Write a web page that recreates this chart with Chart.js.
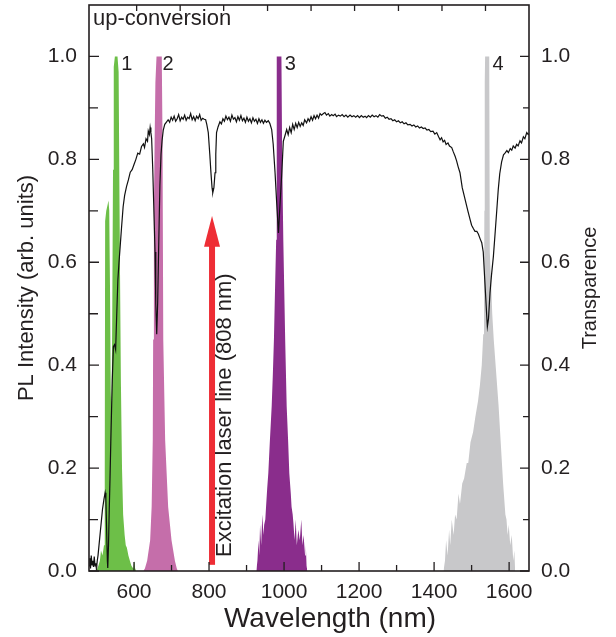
<!DOCTYPE html>
<html>
<head>
<meta charset="utf-8">
<script src="https://cdn.jsdelivr.net/npm/chart.js@4.4.1/dist/chart.umd.min.js"></script>
<style>
  html, body { margin: 0; padding: 0; background: #fff; }
</style>
</head>
<body>
<canvas id="chart" width="616" height="637"></canvas>
<script>
// axis ranges and ticks
const xRange = [480, 1653];
const yRange = [0, 1.1];
const xMajor = [600, 800, 1000, 1200, 1400, 1600];
const xMinor = [500, 700, 900, 1100, 1300, 1500];
const topTicks = [607, 723, 839, 956, 1072, 1188, 1305, 1421, 1537];
const yMajor = [0, 0.2, 0.4, 0.6, 0.8, 1.0];
const yMinor = [0.1, 0.3, 0.5, 0.7, 0.9];

// PL emission peaks (left axis)
const greenNm = [500, 505, 509, 512, 516, 520, 522, 523, 526, 529, 532, 534, 536, 538, 540, 542, 544, 546, 549, 552, 556, 559, 561, 563, 565, 568, 571, 575, 578, 581, 585, 589, 593, 598, 601, 603, 606];
const greenPL = [0, 0.01, 0.02, 0.04, 0.03, 0.05, 0.2, 0.68, 0.70, 0.71, 0.72, 0.70, 0.55, 0.35, 0.3, 0.5, 0.78, 0.98, 1.0, 1.0, 1.0, 0.97, 0.75, 0.55, 0.37, 0.2, 0.11, 0.07, 0.05, 0.045, 0.03, 0.02, 0.01, 0.005, 0.02, 0.005, 0];

const pinkNm = [625, 629, 635, 643, 647, 650, 651, 653, 655, 657, 660, 667, 674, 676, 678, 683, 691, 700, 709, 714, 717];
const pinkPL = [0, 0.005, 0.02, 0.06, 0.125, 0.255, 0.45, 0.7, 0.84, 0.95, 1.0, 1.0, 1.0, 0.84, 0.45, 0.255, 0.125, 0.06, 0.02, 0.005, 0];

const purpleNm = [926, 929, 932, 934, 936, 939, 942, 945, 947, 950, 952, 955, 958, 962, 967, 970, 973, 976, 979, 980, 981, 993, 995, 998, 1003, 1007, 1011, 1014, 1018, 1020, 1023, 1025, 1028, 1031, 1034, 1038, 1042, 1046, 1049, 1052, 1056, 1058, 1060, 1062];
const purplePL = [0, 0.02, 0.06, 0.03, 0.09, 0.05, 0.11, 0.07, 0.09, 0.1, 0.125, 0.16, 0.19, 0.25, 0.32, 0.38, 0.45, 0.55, 0.644, 0.85, 1.0, 1.0, 0.8, 0.644, 0.45, 0.32, 0.25, 0.19, 0.15, 0.125, 0.11, 0.093, 0.06, 0.1, 0.05, 0.08, 0.06, 0.1, 0.05, 0.07, 0.03, 0.05, 0.01, 0];

const grayNm = [1425, 1429, 1432, 1436, 1440, 1443, 1447, 1452, 1456, 1460, 1465, 1469, 1475, 1480, 1487, 1491, 1497, 1504, 1510, 1517, 1522, 1527, 1531, 1533, 1534, 1535, 1536, 1547, 1548, 1549, 1552, 1555, 1559, 1563, 1567, 1572, 1576, 1580, 1584, 1587, 1590, 1593, 1596, 1599, 1603, 1607, 1611, 1614, 1616];
const grayPL = [0, 0.02, 0.06, 0.03, 0.08, 0.05, 0.1, 0.07, 0.11, 0.1, 0.15, 0.13, 0.17, 0.18, 0.21, 0.21, 0.25, 0.27, 0.3, 0.33, 0.36, 0.4, 0.46, 0.5, 0.7, 0.95, 1.0, 1.0, 0.9, 0.62, 0.56, 0.5, 0.45, 0.41, 0.37, 0.32, 0.27, 0.22, 0.17, 0.14, 0.11, 0.1, 0.07, 0.09, 0.05, 0.07, 0.02, 0.04, 0];

// transmission (right axis)
const transNm = [
  480, 482, 484, 486, 488, 490, 492, 494, 496, 498, 500, 502, 504, 508, 512, 516, 520, 523, 525, 527, 529, 530, 532, 534, 536, 539, 542, 545, 548, 551, 554, 557, 560, 563, 567, 571, 575, 580, 585, 590, 595, 600,
  605, 610, 615, 620, 625, 628, 632, 636, 638, 641, 643, 645, 647, 650, 653, 656, 658, 660.5, 663, 666, 669, 672, 675, 678, 682, 686, 691, 695, 699, 703, 707, 711, 715, 719, 723, 727, 731, 735, 739, 743, 747, 751, 755, 759, 763, 767, 771, 775, 779, 783, 787, 791,
  794, 798, 802, 805, 808, 810, 813, 816, 818, 820, 824, 829, 833, 837, 841, 845, 849, 853, 857, 861, 865, 869, 873, 877, 881, 885, 889, 893, 897, 901, 905, 909, 913, 917, 921, 925, 929, 933, 937, 941, 945, 949, 953, 958, 962, 967, 971, 976, 980, 985, 989, 994, 998,
  1002, 1007, 1011, 1015, 1019, 1023, 1027, 1031, 1035, 1039, 1043, 1047, 1051, 1055, 1060, 1064, 1068, 1072, 1076, 1080, 1084, 1088, 1092, 1096,
  1100, 1105, 1109, 1113, 1118, 1122, 1127, 1131, 1136, 1140, 1145, 1150, 1155, 1160, 1165, 1170, 1176, 1181, 1186, 1191, 1196, 1201, 1206, 1211, 1216, 1220, 1225, 1230, 1235, 1240, 1245, 1250, 1255, 1260, 1265, 1270, 1275, 1280, 1285, 1290, 1295, 1300, 1305, 1310, 1315, 1320, 1325, 1330, 1336, 1341, 1346, 1351, 1356, 1361, 1366, 1371, 1376, 1381, 1386, 1391, 1397,
  1402, 1407, 1412, 1416, 1420, 1424, 1428, 1432, 1437, 1441, 1447, 1451, 1456, 1460, 1464, 1469, 1475, 1480, 1485, 1490, 1496, 1500, 1505, 1509, 1514, 1518, 1523, 1527, 1531, 1534, 1537, 1540, 1542, 1545, 1549, 1553, 1558, 1562, 1567, 1571, 1575, 1580, 1585, 1589, 1594, 1598, 1603, 1607, 1611, 1616, 1620, 1624, 1629, 1633, 1638, 1642, 1647, 1651, 1655
];
const transVal = [
  0.01, 0.025, 0.005, 0.03, 0.012, 0.02, 0.008, 0.028, 0.01, 0.015, 0.005, 0.02, 0.03, 0.06, 0.09, 0.12, 0.14, 0.152, 0.14, 0.08, 0.02, 0.006, 0.05, 0.12, 0.18, 0.28, 0.37, 0.436, 0.44, 0.43, 0.5, 0.566, 0.6, 0.63, 0.67, 0.708, 0.73, 0.747, 0.76, 0.775, 0.78, 0.79,
  0.8, 0.812, 0.81, 0.825, 0.83, 0.823, 0.84, 0.835, 0.855, 0.848, 0.862, 0.852, 0.84, 0.78, 0.7, 0.62, 0.52, 0.46, 0.52, 0.64, 0.75, 0.81, 0.838, 0.857, 0.868, 0.872, 0.877, 0.872, 0.882, 0.876, 0.884, 0.874, 0.879, 0.887, 0.875, 0.882, 0.878, 0.886, 0.876, 0.882, 0.879, 0.889, 0.877, 0.883, 0.875, 0.884, 0.879, 0.887, 0.876, 0.88, 0.878, 0.877,
  0.868, 0.852, 0.81, 0.775, 0.745, 0.735, 0.745, 0.774, 0.81, 0.852, 0.863, 0.873, 0.869, 0.879, 0.874, 0.884, 0.877, 0.882, 0.874, 0.886, 0.878, 0.881, 0.873, 0.883, 0.876, 0.885, 0.875, 0.88, 0.872, 0.882, 0.874, 0.879, 0.871, 0.881, 0.874, 0.878, 0.87, 0.879, 0.872, 0.877, 0.87, 0.876, 0.872, 0.875, 0.87, 0.858, 0.83, 0.774, 0.72, 0.657, 0.71, 0.774, 0.835,
  0.845, 0.858, 0.848, 0.862, 0.852, 0.868, 0.858, 0.87, 0.862, 0.872, 0.864, 0.871, 0.866, 0.877, 0.871, 0.879, 0.874, 0.883, 0.876, 0.885, 0.879, 0.886, 0.88, 0.889,
  0.886, 0.889, 0.891, 0.886, 0.889, 0.884, 0.887, 0.885, 0.888, 0.883, 0.886, 0.884, 0.887, 0.883, 0.886, 0.882, 0.886, 0.883, 0.885, 0.882, 0.885, 0.881, 0.885, 0.882, 0.884, 0.881, 0.885, 0.882, 0.886, 0.883, 0.885, 0.882, 0.887, 0.884, 0.885, 0.88, 0.882, 0.878, 0.879, 0.875, 0.877, 0.873, 0.875, 0.871, 0.873, 0.869, 0.871, 0.867, 0.868, 0.865, 0.867, 0.863, 0.865, 0.861, 0.863, 0.86, 0.861, 0.857, 0.858, 0.854, 0.855,
  0.849, 0.852, 0.844, 0.838, 0.842, 0.834, 0.837, 0.829, 0.832, 0.826, 0.823, 0.815, 0.806, 0.797, 0.786, 0.774, 0.745, 0.73, 0.715, 0.7, 0.683, 0.672, 0.665, 0.66, 0.66, 0.655, 0.645, 0.638, 0.62, 0.58, 0.54, 0.5, 0.475, 0.49, 0.54, 0.575, 0.611, 0.65, 0.7, 0.741, 0.772, 0.795, 0.809, 0.812, 0.817, 0.813, 0.821, 0.818, 0.826, 0.822, 0.829, 0.826, 0.836, 0.832, 0.844, 0.84, 0.852, 0.848, 0.851
];

// annotations
const peakLabels = ['1', '2', '3', '4'];
const peakLabelNm = [566, 676, 1002, 1556];
const laserNm = 808;
const laserArrow = [0.012, 0.63, 0.69]; // base, head base, tip
const laserText = 'Excitation laser line (808 nm)';

const FONT = "'Liberation Sans', Arial, Helvetica, sans-serif";
const TEXT = '#231f20';
Chart.defaults.font.family = FONT;

const pts = (xs, ys) => xs.map((x, i) => ({ x, y: ys[i] }));

const area = (label, xs, ys, color) => ({
  label,
  data: pts(xs, ys),
  yAxisID: 'y',
  fill: 'origin',
  backgroundColor: color,
  borderWidth: 0,
  pointRadius: 0,
  tension: 0,
  order: 2
});

const noPad = s => { s.paddingTop = 0; s.paddingBottom = 0; s.paddingLeft = 0; s.paddingRight = 0; };

const yTicks = {
  color: TEXT,
  font: { size: 21 },
  padding: 12,
  callback: v => Number(v).toFixed(1)
};

const decorations = {
  id: 'decorations',
  afterDatasetsDraw(chart) {
    const { ctx, chartArea: a, scales: { x, y } } = chart;
    ctx.save();

    // laser arrow
    const ax = x.getPixelForValue(laserNm);
    const yb = y.getPixelForValue(laserArrow[0]);
    const yh = y.getPixelForValue(laserArrow[1]);
    const yt = y.getPixelForValue(laserArrow[2]);
    ctx.fillStyle = '#ee2d35';
    ctx.fillRect(ax - 3, yh - 1, 6, yb - yh + 1);
    ctx.beginPath();
    ctx.moveTo(ax - 8, yh);
    ctx.lineTo(ax + 8, yh);
    ctx.lineTo(ax, yt);
    ctx.closePath();
    ctx.fill();

    ctx.fillStyle = TEXT;
    // laser text
    ctx.save();
    ctx.translate(ax + 19, y.getPixelForValue(0) - 14);
    ctx.rotate(-Math.PI / 2);
    ctx.font = '22px ' + FONT;
    ctx.textAlign = 'left';
    ctx.textBaseline = 'alphabetic';
    ctx.fillText(laserText, 0, 0);
    ctx.restore();

    // peak numbers
    ctx.font = '20px ' + FONT;
    ctx.textAlign = 'left';
    ctx.textBaseline = 'alphabetic';
    peakLabels.forEach((t, i) => {
      ctx.fillText(t, x.getPixelForValue(peakLabelNm[i]), y.getPixelForValue(1.0) + 14);
    });

    // panel label
    ctx.font = '22px ' + FONT;
    ctx.fillText('up-conversion', a.left + 4, a.top + 20);

    // frame
    ctx.strokeStyle = '#231f20';
    ctx.lineWidth = 1.6;
    ctx.strokeRect(a.left, a.top, a.right - a.left, a.bottom - a.top);

    // inward ticks
    ctx.lineWidth = 1.3;
    ctx.beginPath();
    const tick = (x1, y1, x2, y2) => { ctx.moveTo(x1, y1); ctx.lineTo(x2, y2); };
    xMajor.forEach(v => { const p = x.getPixelForValue(v); tick(p, a.bottom, p, a.bottom - 9); });
    xMinor.forEach(v => { const p = x.getPixelForValue(v); tick(p, a.bottom, p, a.bottom - 6); });
    topTicks.forEach(v => { const p = x.getPixelForValue(v); tick(p, a.top, p, a.top + 6); });
    yMajor.forEach(v => {
      const p = y.getPixelForValue(v);
      tick(a.left, p, a.left + 10, p);
      tick(a.right, p, a.right - 9, p);
    });
    yMinor.forEach(v => {
      const p = y.getPixelForValue(v);
      tick(a.left, p, a.left + 9, p);
      tick(a.right, p, a.right - 6, p);
    });
    ctx.stroke();

    // x axis title
    ctx.font = '28px ' + FONT;
    ctx.textAlign = 'center';
    ctx.textBaseline = 'middle';
    ctx.fillText('Wavelength (nm)', 330, 619);

    // right axis title
    ctx.save();
    ctx.translate(590, (a.top + a.bottom) / 2);
    ctx.rotate(-Math.PI / 2);
    ctx.font = '20px ' + FONT;
    ctx.textAlign = 'center';
    ctx.textBaseline = 'middle';
    ctx.fillText('Transparence', 0, 0);
    ctx.restore();

    ctx.restore();
  }
};

new Chart(document.getElementById('chart'), {
  type: 'line',
  data: {
    datasets: [
      {
        label: 'Transparence',
        data: pts(transNm, transVal),
        yAxisID: 'y1',
        borderColor: '#111',
        borderWidth: 1.2,
        pointRadius: 0,
        tension: 0,
        fill: false,
        order: 1
      },
      area('1', greenNm, greenPL, '#6dbf48'),
      area('2', pinkNm, pinkPL, '#c56eaa'),
      area('3', purpleNm, purplePL, '#8a2d8c'),
      area('4', grayNm, grayPL, '#c8c8ca')
    ]
  },
  options: {
    responsive: false,
    devicePixelRatio: 1,
    animation: false,
    layout: { padding: { top: 5, left: 0, right: 0, bottom: 0 } },
    plugins: {
      legend: { display: false },
      tooltip: { enabled: false }
    },
    scales: {
      x: {
        type: 'linear',
        position: 'bottom',
        min: xRange[0],
        max: xRange[1],
        afterBuildTicks: s => { s.ticks = xMajor.map(v => ({ value: v })); },
        afterFit: s => { s.height = 66; noPad(s); },
        grid: { display: false, drawTicks: false },
        border: { display: false },
        ticks: {
          color: TEXT,
          font: { size: 21 },
          padding: 9,
          maxRotation: 0,
          autoSkip: false,
          callback: v => String(v)
        }
      },
      y: {
        position: 'left',
        min: yRange[0],
        max: yRange[1],
        afterBuildTicks: s => { s.ticks = yMajor.map(v => ({ value: v })); },
        afterFit: s => { s.width = 89; noPad(s); },
        grid: { display: false, drawTicks: false },
        border: { display: false },
        ticks: yTicks,
        title: {
          display: true,
          text: 'PL Intensity (arb. units)',
          color: TEXT,
          font: { size: 22 },
          padding: { top: 14, bottom: 0 }
        }
      },
      y1: {
        position: 'right',
        min: yRange[0],
        max: yRange[1],
        afterBuildTicks: s => { s.ticks = yMajor.map(v => ({ value: v })); },
        afterFit: s => { s.width = 87; noPad(s); },
        grid: { display: false, drawTicks: false },
        border: { display: false },
        ticks: yTicks
      }
    }
  },
  plugins: [decorations]
});
</script>
</body>
</html>
